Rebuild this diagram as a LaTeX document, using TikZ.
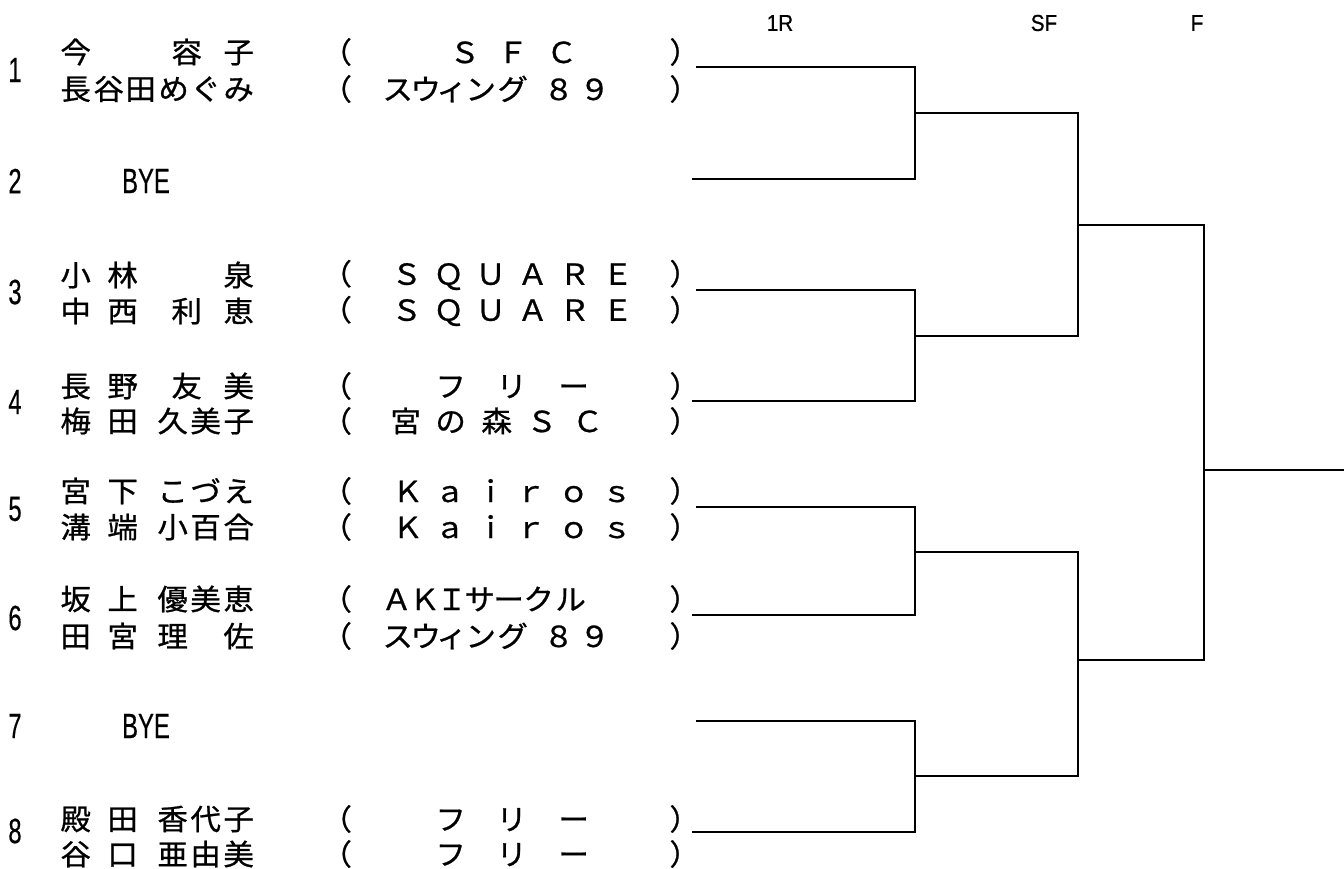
\documentclass[tikz,border=0pt]{standalone}
\usepackage{fontspec}
\usepackage{graphicx}
\newfontfamily\jpfont[FakeStretch=1.05, FakeBold=0.8]{Noto Sans CJK JP}
\newfontfamily\numfont[FakeBold=0.6]{Liberation Sans}
% one glyph centred at x (pt from the left edge)
\newcommand{\gl}[2]{\makebox[0pt][l]{\hspace*{#1pt}\makebox[0pt]{#2}}}
\newcommand{\brk}{\gl{336}{（}\gl{684}{）}}
\newcommand{\swing}{\gl{397}{ス}\gl{425}{ウ}\gl{451}{ィ}\gl{480}{ン}\gl{512}{グ}\gl{558}{８}\gl{594}{９}}
\newcommand{\square}{\gl{406}{Ｓ}\gl{448}{Ｑ}\gl{490}{Ｕ}\gl{532}{Ａ}\gl{574}{Ｒ}\gl{617}{Ｅ}}
\newcommand{\kairos}{\gl{407}{Ｋ}\gl{449}{ａ}\gl{490}{ｉ}\gl{530}{ｒ}\gl{573}{ｏ}\gl{616}{ｓ}}
\newcommand{\free}{\gl{450}{フ}\gl{511}{リ}\gl{573}{ー}}
\tikzset{
  namestyle/.style={inner sep=0pt, anchor=west, font=\jpfont\fontsize{29}{32}\selectfont},
  numstyle/.style={inner sep=0pt, font=\numfont\fontsize{35}{38}\selectfont},
  headstyle/.style={inner sep=0pt, font=\numfont\fontsize{23}{25}\selectfont},
  bline/.style={line width=1.7pt}
}
\begin{document}
\begin{tikzpicture}[x=1pt, y=-1pt]
    \useasboundingbox (0,0) rectangle (1344,868);

    % round headings
    \node[headstyle] (h1) at (780,23) {\scalebox{0.9}[1]{1R}};
    \node[headstyle] (h2) at (1044,23) {\scalebox{0.9}[1]{SF}};
    \node[headstyle] (h3) at (1197,23) {\scalebox{0.9}[1]{F}};

    % draw numbers
    \foreach \i/\y in {1/70, 2/181, 3/292, 4/402, 5/509, 6/618, 7/726, 8/831}
        \node[numstyle] (k\i) at (15,\y) {\scalebox{0.68}[1]{\i}};
    \node[numstyle] (bye2) at (146,181) {\scalebox{0.68}[1]{BYE}};
    \node[numstyle] (bye7) at (146,726) {\scalebox{0.68}[1]{BYE}};

    % 1
    \node[namestyle] (n1a) at (0,52) {\gl{75}{今}\gl{186}{容}\gl{238}{子}};
    \node[namestyle] (t1a) at (0,52) {\brk\gl{464}{Ｓ}\gl{512}{Ｆ}\gl{561}{Ｃ}};
    \node[namestyle] (n1b) at (0,89) {\gl{75}{長}\gl{108}{谷}\gl{140}{田}\gl{173}{め}\gl{205}{ぐ}\gl{238}{み}};
    \node[namestyle] (t1b) at (0,89) {\brk\swing};
    % 3
    \node[namestyle] (n3a) at (0,275) {\gl{75}{小}\gl{122}{林}\gl{238}{泉}};
    \node[namestyle] (t3a) at (0,275) {\brk\square};
    \node[namestyle] (n3b) at (0,311) {\gl{75}{中}\gl{122}{西}\gl{186}{利}\gl{238}{恵}};
    \node[namestyle] (t3b) at (0,311) {\brk\square};
    % 4
    \node[namestyle] (n4a) at (0,386) {\gl{75}{長}\gl{122}{野}\gl{186}{友}\gl{238}{美}};
    \node[namestyle] (t4a) at (0,386) {\brk\free};
    \node[namestyle] (n4b) at (0,421) {\gl{75}{梅}\gl{122}{田}\gl{172}{久}\gl{205}{美}\gl{238}{子}};
    \node[namestyle] (t4b) at (0,421) {\brk\gl{405}{宮}\gl{450}{の}\gl{496}{森}\gl{541}{Ｓ}\gl{587}{Ｃ}};
    % 5
    \node[namestyle] (n5a) at (0,491) {\gl{75}{宮}\gl{122}{下}\gl{172}{こ}\gl{205}{づ}\gl{238}{え}};
    \node[namestyle] (t5a) at (0,491) {\brk\kairos};
    \node[namestyle] (n5b) at (0,527) {\gl{75}{溝}\gl{122}{端}\gl{172}{小}\gl{205}{百}\gl{238}{合}};
    \node[namestyle] (t5b) at (0,527) {\brk\kairos};
    % 6
    \node[namestyle] (n6a) at (0,599) {\gl{75}{坂}\gl{122}{上}\gl{172}{優}\gl{205}{美}\gl{238}{恵}};
    \node[namestyle] (t6a) at (0,599) {\brk\gl{396}{Ａ}\gl{424}{Ｋ}\gl{451}{Ｉ}\gl{479}{サ}\gl{508}{ー}\gl{538}{ク}\gl{570}{ル}};
    \node[namestyle] (n6b) at (0,636) {\gl{75}{田}\gl{122}{宮}\gl{172}{理}\gl{238}{佐}};
    \node[namestyle] (t6b) at (0,636) {\brk\swing};
    % 8
    \node[namestyle] (n8a) at (0,819) {\gl{75}{殿}\gl{122}{田}\gl{172}{香}\gl{205}{代}\gl{238}{子}};
    \node[namestyle] (t8a) at (0,819) {\brk\free};
    \node[namestyle] (n8b) at (0,854) {\gl{75}{谷}\gl{122}{口}\gl{172}{亜}\gl{205}{由}\gl{238}{美}};
    \node[namestyle] (t8b) at (0,854) {\brk\free};

    % bracket points
    \foreach \i/\x/\y in {1/696/67, 2/692/179, 3/696/290, 4/692/401, 5/696/507, 6/692/615, 7/696/721, 8/692/832}
        \coordinate (e\i) at (\x,\y);
    \coordinate (q1) at (915,113);
    \coordinate (q2) at (915,336);
    \coordinate (q3) at (915,552);
    \coordinate (q4) at (915,776);
    \coordinate (s1) at (1078,225);
    \coordinate (s2) at (1078,660);
    \coordinate (w) at (1204,470);
    \coordinate (fin) at (1344,470);

    % 1R
    \draw[bline] (e1) -| (q1);
    \draw[bline] (e2) -| (q1);
    \draw[bline] (e3) -| (q2);
    \draw[bline] (e4) -| (q2);
    \draw[bline] (e5) -| (q3);
    \draw[bline] (e6) -| (q3);
    \draw[bline] (e7) -| (q4);
    \draw[bline] (e8) -| (q4);
    % SF
    \draw[bline] (q1) -| (s1);
    \draw[bline] (q2) -| (s1);
    \draw[bline] (q3) -| (s2);
    \draw[bline] (q4) -| (s2);
    % F
    \draw[bline] (s1) -| (w);
    \draw[bline] (s2) -| (w);
    \draw[bline] (w) -- (fin);
\end{tikzpicture}
\end{document}
